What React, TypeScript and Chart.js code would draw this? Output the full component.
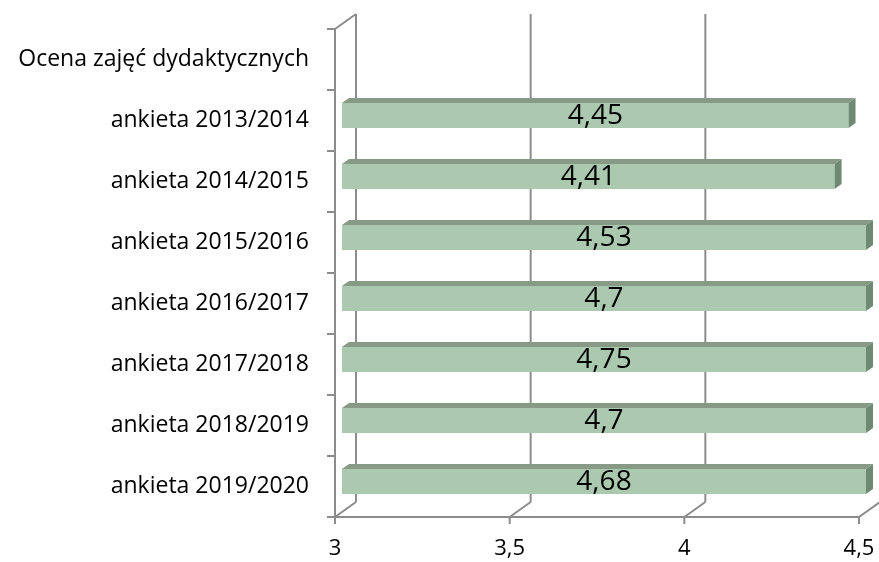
import React, { useEffect, useRef } from "react";
import { Chart, registerables } from "chart.js";

Chart.register(...registerables);

const categories = [
  "Ocena zajęć dydaktycznych",
  "ankieta 2013/2014",
  "ankieta 2014/2015",
  "ankieta 2015/2016",
  "ankieta 2016/2017",
  "ankieta 2017/2018",
  "ankieta 2018/2019",
  "ankieta 2019/2020",
];
const scores: (number | null)[] = [null, 4.45, 4.41, 4.53, 4.7, 4.75, 4.7, 4.68];
const xTicks = [3, 3.5, 4, 4.5];

const FONT = "'Open Sans', sans-serif";
const LINE = "#8c8c8c";
const FRONT = "#aac9ae";
const TOP = "#879a86";
const SIDE = "#6e8a72";
// depth of whole 3D box and of bar
const DX = 21, DY = -15;
const BX = 7, BY = -5;

const threeD = {
  id: "threeD",
  beforeDatasetsDraw(chart: any) {
    const { ctx, chartArea: a } = chart;
    const xs = chart.scales.x;
    ctx.save();
    ctx.strokeStyle = LINE;
    ctx.lineWidth = 2;
    ctx.lineCap = "butt";
    ctx.beginPath();
    xTicks.forEach((v) => {
      const px = xs.getPixelForValue(v);
      ctx.moveTo(px + DX, a.top + DY);
      ctx.lineTo(px + DX, a.bottom + DY);
      ctx.moveTo(px, a.bottom);
      ctx.lineTo(px + DX, a.bottom + DY);
      ctx.moveTo(px, a.bottom);
      ctx.lineTo(px, a.bottom + 7);
    });
    ctx.moveTo(a.left, a.bottom);
    ctx.lineTo(a.right, a.bottom);
    ctx.moveTo(a.left, a.top);
    ctx.lineTo(a.left, a.bottom);
    ctx.moveTo(a.left, a.top);
    ctx.lineTo(a.left + DX, a.top + DY);
    const n = categories.length;
    for (let i = 0; i <= n; i++) {
      const py = a.top + ((a.bottom - a.top) * i) / n;
      ctx.moveTo(a.left - 8, py);
      ctx.lineTo(a.left, py);
    }
    ctx.stroke();
    ctx.restore();
    ctx.save();
    ctx.translate(BX, BY);
  },
  afterDatasetsDraw(chart: any) {
    const { ctx, chartArea: a } = chart;
    ctx.restore();
    const meta = chart.getDatasetMeta(0);
    ctx.save();
    meta.data.forEach((bar: any, i: number) => {
      if (scores[i] == null) return;
      const { x, y, base, height } = bar.getProps(["x", "y", "base", "height"], true);
      const left = Math.max(base, a.left) + BX;
      const right = Math.min(x, a.right) + BX;
      const top = y - height / 2 + BY;
      const bottom = y + height / 2 + BY;
      ctx.fillStyle = TOP;
      ctx.beginPath();
      ctx.moveTo(left, top);
      ctx.lineTo(left + BX, top + BY);
      ctx.lineTo(right + BX, top + BY);
      ctx.lineTo(right, top);
      ctx.closePath();
      ctx.fill();
      ctx.fillStyle = SIDE;
      ctx.beginPath();
      ctx.moveTo(right, top);
      ctx.lineTo(right + BX, top + BY);
      ctx.lineTo(right + BX, bottom + BY);
      ctx.lineTo(right, bottom);
      ctx.closePath();
      ctx.fill();
      ctx.fillStyle = "#000";
      ctx.font = `28px ${FONT}`;
      ctx.textAlign = "center";
      ctx.textBaseline = "middle";
      ctx.fillText(String(scores[i]).replace(".", ","), (left + right) / 2, (top + bottom) / 2 + 1);
    });
    ctx.restore();
  },
};

export default function App() {
  const ref = useRef<HTMLCanvasElement>(null);
  useEffect(() => {
    document.body.style.margin = "0";
    const chart = new Chart(ref.current!, {
      type: "bar",
      data: {
        labels: categories,
        datasets: [
          {
            data: scores,
            base: 3,
            backgroundColor: FRONT,
            borderWidth: 0,
            barPercentage: 0.41,
            categoryPercentage: 1,
          },
        ],
      },
      options: {
        indexAxis: "y",
        animation: false,
        responsive: false,
        layout: { padding: { top: 29, right: 20, left: 0, bottom: 0 } },
        plugins: { legend: { display: false }, tooltip: { enabled: false } },
        scales: {
          x: {
            min: 3,
            max: 4.5,
            afterBuildTicks: (s: any) => {
              s.ticks = xTicks.map((v) => ({ value: v }));
            },
            afterFit: (s: any) => {
              s.height = 45;
              s.paddingLeft = 0;
              s.paddingRight = 0;
            },
            grid: { display: false },
            border: { display: false },
            ticks: {
              color: "#000",
              font: { family: FONT, size: 22 },
              padding: 11,
              maxRotation: 0,
              callback: (v: any) => String(v).replace(".", ","),
            },
          },
          y: {
            afterFit: (s: any) => {
              s.width = 335;
              s.paddingTop = 0;
              s.paddingBottom = 0;
            },
            grid: { display: false, drawTicks: false },
            border: { display: false },
            ticks: {
              color: "#000",
              font: { family: FONT, size: 23 },
              padding: 26,
            },
          },
        },
      },
      plugins: [threeD],
    } as any);
    return () => chart.destroy();
  }, []);
  return (
    <div style={{ width: 879, height: 562 }}>
      <canvas ref={ref} width={879} height={562} />
    </div>
  );
}
